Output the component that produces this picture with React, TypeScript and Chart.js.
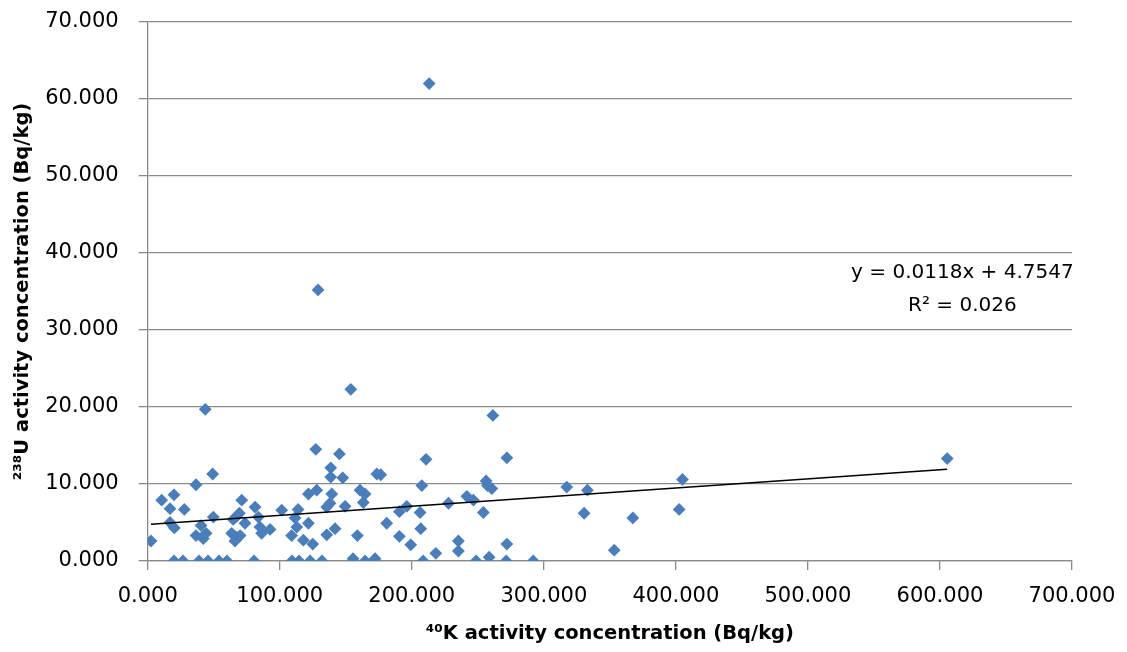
import React, { useEffect, useRef } from 'react';
import { Chart, registerables } from 'chart.js';

Chart.register(...registerables);

// 40K activity concentration (Bq/kg)
const K40: number[] = [
  19.9, 26.7, 38.9, 45.7, 54, 60, 80.5, 109.3, 114.6, 123, 132, 155.5, 164.6, 172.2, 208.6, 248.7, 258.6, 271.5, 292,
  43.6, 127.3, 49.2, 36.6, 128, 121.7, 10.6, 19.9, 16.9, 27.7, 71.2, 81.3, 101.5, 113.9, 69.4, 49.7, 83.8, 16.9, 20.2,
  40.4, 64.8, 73.7, 67.4, 111.6, 112.9, 121.7, 85, 92.7, 86.3, 44.2, 36.6, 42.1, 63.6, 67.4, 66.1, 70, 109, 117.9, 125,
  2.5, 153.8, 261.4, 145.2, 210.8, 272, 138.6, 138.6, 147.7, 173.5, 176.5, 139.4, 160.8, 164.6, 207.6, 256.3, 257.3,
  260.6, 241.7, 246.7, 227.8, 138.1, 135.6, 163.3, 149.5, 196.2, 190.6, 206.3, 254.2, 181, 141.9, 135.6, 206.8, 158.8,
  190.6, 199.2, 235.3, 235.3, 218.2, 272, 317.4, 333, 405, 330.5, 367.4, 402.5, 353.3, 213.2, 129, 605.5,
];

// 238U activity concentration (Bq/kg)
const U238: number[] = [
  0, 0, 0, 0, 0, 0, 0, 0, 0, 0, 0, 0.3, 0, 0.3, 0, 0, 0.5, 0, 0,
  19.7, 14.5, 11.3, 9.9, 9.2, 8.7, 7.9, 8.6, 6.8, 6.7, 7.9, 7.0, 6.6, 6.7, 6.2, 5.7, 5.7, 5.0, 4.3,
  4.6, 5.4, 4.9, 5.8, 5.6, 4.4, 4.9, 4.4, 4.1, 3.6, 3.6, 3.3, 2.9, 3.6, 3.1, 2.6, 3.3, 3.3, 2.7, 2.2,
  2.6, 22.3, 18.9, 13.9, 13.2, 13.4, 12.1, 10.9, 10.8, 11.3, 11.2, 8.7, 9.2, 8.7, 9.8, 10.4, 9.8,
  9.4, 8.4, 7.9, 7.5, 7.5, 7.0, 7.6, 7.1, 7.1, 6.4, 6.3, 6.3, 4.9, 4.2, 3.4, 4.2, 3.3,
  3.2, 2.1, 2.6, 1.3, 1.0, 2.2, 9.6, 9.2, 10.6, 6.2, 5.6, 6.7, 1.4, 62.0, 35.2, 13.3,
];

const TREND_SLOPE = 0.0118;
const TREND_INTERCEPT = 4.7547;
const EQUATION_LINES: string[] = ['y = 0.0118x + 4.7547', 'R² = 0.026'];
// anchor of the equation label, in data units (x centre, y centres of the two lines)
const EQUATION_X = 617;
const EQUATION_Y: number[] = [37.4, 33.1];

const X_TITLE = '⁴⁰K activity concentration (Bq/kg)';
const Y_TITLE = '²³⁸U activity concentration (Bq/kg)';

const FONT = "'DejaVu Sans', sans-serif";
const GRID = '#8a8a8a';
const MARKER = '#4a7ebb';

const equationPlugin = {
  id: 'equationLabel',
  afterDatasetsDraw(chart: any) {
    const { ctx, scales } = chart;
    ctx.save();
    ctx.fillStyle = '#000';
    ctx.font = `20px ${FONT}`;
    ctx.textAlign = 'center';
    ctx.textBaseline = 'middle';
    const px = scales.x.getPixelForValue(EQUATION_X);
    EQUATION_LINES.forEach((t, i) => {
      ctx.fillText(t, px, scales.y.getPixelForValue(EQUATION_Y[i]));
    });
    ctx.restore();
  },
};

export default function App() {
  const ref = useRef<HTMLCanvasElement | null>(null);
  useEffect(() => {
    document.body.style.margin = '0';
    if (!ref.current) return;
    const points = K40.map((x, i) => ({ x, y: U238[i] }));
    const xMin = Math.min(...K40);
    const xMax = Math.max(...K40);
    const trend = [
      { x: xMin, y: TREND_SLOPE * xMin + TREND_INTERCEPT },
      { x: xMax, y: TREND_SLOPE * xMax + TREND_INTERCEPT },
    ];
    const chart = new Chart(ref.current, {
      type: 'scatter',
      data: {
        datasets: [
          {
            type: 'line',
            data: trend,
            borderColor: '#000',
            borderWidth: 1.5,
            pointRadius: 0,
            order: 0,
          } as any,
          {
            data: points,
            pointStyle: 'rectRot',
            pointRadius: 6.4,
            backgroundColor: MARKER,
            borderColor: MARKER,
            borderWidth: 0,
            order: 1,
          },
        ],
      },
      options: {
        animation: false,
        responsive: true,
        maintainAspectRatio: false,
        layout: { padding: { top: 22, right: 55, left: 0, bottom: 0 } },
        plugins: { legend: { display: false }, tooltip: { enabled: false } },
        scales: {
          x: {
            type: 'linear',
            min: 0,
            max: 700,
            afterFit: (s: any) => { s.height = 91; s.paddingLeft = 0; s.paddingRight = 0; },
            ticks: {
              stepSize: 100,
              color: '#000',
              font: { family: FONT, size: 21 },
              padding: 14,
              maxRotation: 0,
              callback: (v: any) => Number(v).toFixed(3),
            },
            grid: { drawOnChartArea: false, drawTicks: true, tickLength: 9, color: GRID, lineWidth: 1.3 },
            border: { display: true, color: GRID, width: 1.3 },
            title: {
              display: true,
              text: X_TITLE,
              color: '#000',
              font: { family: FONT, size: 19.5, weight: 'bold' },
              padding: { top: 0, bottom: 6 },
            },
          },
          y: {
            type: 'linear',
            min: 0,
            max: 70,
            afterFit: (s: any) => { s.width = 147.7; s.paddingTop = 0; s.paddingBottom = 0; },
            ticks: {
              stepSize: 10,
              color: '#000',
              font: { family: FONT, size: 21 },
              padding: 20,
              callback: (v: any) => Number(v).toFixed(3),
            },
            grid: { drawOnChartArea: true, drawTicks: true, tickLength: 9, color: GRID, lineWidth: 1.3 },
            border: { display: true, color: GRID, width: 1.3 },
            title: {
              display: true,
              text: Y_TITLE,
              color: '#000',
              font: { family: FONT, size: 19.5, weight: 'bold' },
              padding: { top: 11, bottom: 0 },
            },
          },
        },
      },
      plugins: [equationPlugin],
    });
    return () => chart.destroy();
  }, []);
  return (
    <div style={{ width: 1127, height: 652, position: 'relative', background: '#fff' }}>
      <canvas ref={ref} />
    </div>
  );
}
